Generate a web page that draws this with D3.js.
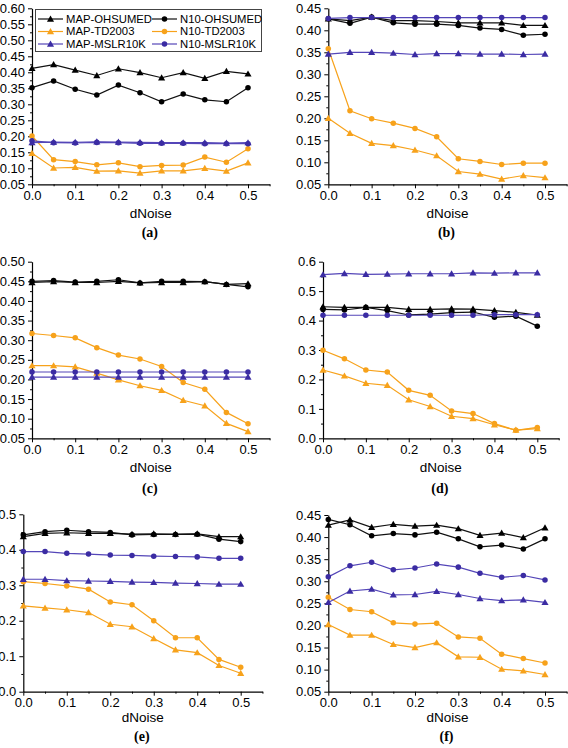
<!DOCTYPE html>
<html><head><meta charset="utf-8">
<script src="https://cdn.jsdelivr.net/npm/d3@7/dist/d3.min.js"></script>
<style>body{margin:0;background:#fff;} svg{display:block;}</style>
</head><body>
<svg id="chart" width="568" height="748"></svg>
<script>
// ---------- DATA ----------
const xValues = [0, 0.05, 0.1, 0.15, 0.2, 0.25, 0.3, 0.35, 0.4, 0.45, 0.5];
const xTickLabels = [0, 0.1, 0.2, 0.3, 0.4, 0.5];
const seriesNames = ["MAP-OHSUMED", "N10-OHSUMED", "MAP-TD2003", "N10-TD2003", "MAP-MSLR10K", "N10-MSLR10K"];
const panelTags = ["(a)", "(b)", "(c)", "(d)", "(e)", "(f)"];
const xLabel = "dNoise";

// panel (a)
const a_MAP_OHSUMED = [0.412, 0.424, 0.407, 0.390, 0.411, 0.399, 0.383, 0.399, 0.381, 0.403, 0.395];
const a_N10_OHSUMED = [0.352, 0.373, 0.347, 0.329, 0.360, 0.336, 0.308, 0.332, 0.314, 0.308, 0.352];
const a_MAP_TD2003  = [0.147, 0.101, 0.103, 0.091, 0.092, 0.085, 0.092, 0.092, 0.100, 0.091, 0.117];
const a_N10_TD2003  = [0.201, 0.127, 0.121, 0.111, 0.117, 0.105, 0.109, 0.110, 0.135, 0.119, 0.161];
const a_MAP_MSLR10K = [0.180, 0.182, 0.181, 0.183, 0.182, 0.181, 0.180, 0.180, 0.180, 0.179, 0.180];
const a_N10_MSLR10K = [0.186, 0.180, 0.179, 0.181, 0.180, 0.178, 0.178, 0.178, 0.177, 0.177, 0.177];
// panel (b)
const b_MAP_OHSUMED = [0.426, 0.422, 0.430, 0.422, 0.422, 0.420, 0.417, 0.417, 0.417, 0.411, 0.411];
const b_N10_OHSUMED = [0.426, 0.416, 0.430, 0.417, 0.414, 0.414, 0.411, 0.405, 0.402, 0.389, 0.391];
const b_MAP_TD2003  = [0.200, 0.166, 0.143, 0.138, 0.128, 0.115, 0.079, 0.073, 0.062, 0.070, 0.065];
const b_N10_TD2003  = [0.358, 0.217, 0.199, 0.189, 0.177, 0.158, 0.108, 0.102, 0.095, 0.098, 0.098];
const b_MAP_MSLR10K = [0.346, 0.350, 0.350, 0.348, 0.345, 0.347, 0.347, 0.346, 0.346, 0.345, 0.346];
const b_N10_MSLR10K = [0.427, 0.429, 0.429, 0.429, 0.429, 0.429, 0.429, 0.429, 0.429, 0.429, 0.429];
// panel (c)
const c_MAP_OHSUMED = [0.447, 0.449, 0.447, 0.447, 0.450, 0.446, 0.447, 0.447, 0.449, 0.442, 0.444];
const c_N10_OHSUMED = [0.450, 0.452, 0.448, 0.450, 0.454, 0.446, 0.450, 0.450, 0.449, 0.442, 0.436];
const c_MAP_TD2003  = [0.235, 0.235, 0.232, 0.216, 0.199, 0.184, 0.172, 0.147, 0.133, 0.088, 0.067];
const c_N10_TD2003  = [0.317, 0.312, 0.306, 0.281, 0.262, 0.252, 0.233, 0.192, 0.175, 0.116, 0.087];
const c_MAP_MSLR10K = [0.206, 0.206, 0.206, 0.206, 0.206, 0.206, 0.206, 0.206, 0.206, 0.206, 0.206];
const c_N10_MSLR10K = [0.219, 0.219, 0.219, 0.219, 0.219, 0.219, 0.219, 0.219, 0.219, 0.219, 0.219];
// panel (d)
const d_MAP_OHSUMED = [0.447, 0.445, 0.445, 0.445, 0.438, 0.438, 0.440, 0.439, 0.434, 0.428, 0.419];
const d_N10_OHSUMED = [0.438, 0.436, 0.445, 0.434, 0.419, 0.422, 0.427, 0.429, 0.411, 0.415, 0.381];
const d_MAP_TD2003  = [0.232, 0.212, 0.187, 0.180, 0.131, 0.108, 0.075, 0.067, 0.046, 0.028, 0.033];
const d_N10_TD2003  = [0.299, 0.270, 0.232, 0.225, 0.163, 0.146, 0.093, 0.084, 0.050, 0.027, 0.037];
const d_MAP_MSLR10K = [0.556, 0.560, 0.557, 0.558, 0.559, 0.559, 0.559, 0.562, 0.561, 0.562, 0.562];
const d_N10_MSLR10K = [0.418, 0.418, 0.418, 0.418, 0.418, 0.418, 0.418, 0.418, 0.420, 0.420, 0.420];
// panel (e)
const e_MAP_OHSUMED = [0.437, 0.446, 0.448, 0.446, 0.446, 0.444, 0.445, 0.444, 0.445, 0.437, 0.437];
const e_N10_OHSUMED = [0.442, 0.451, 0.455, 0.451, 0.449, 0.442, 0.443, 0.443, 0.444, 0.430, 0.423];
const e_MAP_TD2003  = [0.242, 0.236, 0.231, 0.223, 0.190, 0.183, 0.150, 0.118, 0.110, 0.074, 0.052];
const e_N10_TD2003  = [0.310, 0.305, 0.298, 0.289, 0.253, 0.245, 0.200, 0.152, 0.152, 0.091, 0.069];
const e_MAP_MSLR10K = [0.317, 0.317, 0.313, 0.312, 0.311, 0.309, 0.308, 0.306, 0.305, 0.303, 0.303];
const e_N10_MSLR10K = [0.395, 0.395, 0.390, 0.388, 0.385, 0.384, 0.382, 0.381, 0.380, 0.376, 0.376];
// panel (f)
const f_MAP_OHSUMED = [0.427, 0.439, 0.422, 0.429, 0.425, 0.427, 0.419, 0.404, 0.409, 0.399, 0.421];
const f_N10_OHSUMED = [0.440, 0.428, 0.403, 0.408, 0.405, 0.411, 0.396, 0.378, 0.382, 0.373, 0.396];
const f_MAP_TD2003  = [0.202, 0.178, 0.178, 0.157, 0.150, 0.161, 0.129, 0.128, 0.101, 0.097, 0.089];
const f_N10_TD2003  = [0.264, 0.236, 0.231, 0.206, 0.203, 0.205, 0.174, 0.171, 0.135, 0.125, 0.115];
const f_MAP_MSLR10K = [0.252, 0.278, 0.282, 0.269, 0.270, 0.277, 0.270, 0.261, 0.256, 0.258, 0.252];
const f_N10_MSLR10K = [0.310, 0.335, 0.343, 0.326, 0.330, 0.339, 0.332, 0.318, 0.309, 0.313, 0.303];

// y tick labels per panel
const yTicksA = [0.05, 0.10, 0.15, 0.20, 0.25, 0.30, 0.35, 0.40, 0.45, 0.50, 0.55, 0.60];
const yTicksB = [0.05, 0.10, 0.15, 0.20, 0.25, 0.30, 0.35, 0.40, 0.45];
const yTicksC = [0.05, 0.10, 0.15, 0.20, 0.25, 0.30, 0.35, 0.40, 0.45, 0.50];
const yTicksD = [0.0, 0.1, 0.2, 0.3, 0.4, 0.5, 0.6];
const yTicksE = [0.0, 0.1, 0.2, 0.3, 0.4, 0.5];
const yTicksF = [0.05, 0.10, 0.15, 0.20, 0.25, 0.30, 0.35, 0.40, 0.45];

const panelData = [
  [a_MAP_OHSUMED, a_N10_OHSUMED, a_MAP_TD2003, a_N10_TD2003, a_MAP_MSLR10K, a_N10_MSLR10K],
  [b_MAP_OHSUMED, b_N10_OHSUMED, b_MAP_TD2003, b_N10_TD2003, b_MAP_MSLR10K, b_N10_MSLR10K],
  [c_MAP_OHSUMED, c_N10_OHSUMED, c_MAP_TD2003, c_N10_TD2003, c_MAP_MSLR10K, c_N10_MSLR10K],
  [d_MAP_OHSUMED, d_N10_OHSUMED, d_MAP_TD2003, d_N10_TD2003, d_MAP_MSLR10K, d_N10_MSLR10K],
  [e_MAP_OHSUMED, e_N10_OHSUMED, e_MAP_TD2003, e_N10_TD2003, e_MAP_MSLR10K, e_N10_MSLR10K],
  [f_MAP_OHSUMED, f_N10_OHSUMED, f_MAP_TD2003, f_N10_TD2003, f_MAP_MSLR10K, f_N10_MSLR10K]
];
const panelYTicks = [yTicksA, yTicksB, yTicksC, yTicksD, yTicksE, yTicksF];

// ---------- LAYOUT / STYLE ----------
const layout = [
  {x0: 32,    x5: 248,   yT: 8.3,   yB: 184.3, lab: 213,   tag: 232,   fmt: ".2f"},
  {x0: 328.3, x5: 545,   yT: 8.3,   yB: 184.3, lab: 213,   tag: 232,   fmt: ".2f"},
  {x0: 32,    x5: 248,   yT: 261.7, yB: 438.3, lab: 467,   tag: 488.5, fmt: ".2f"},
  {x0: 323,   x5: 537.3, yT: 261.7, yB: 438.3, lab: 467,   tag: 488.5, fmt: ".1f"},
  {x0: 23.3,  x5: 240.7, yT: 514.3, yB: 691.7, lab: 717,   tag: 736,   fmt: ".1f"},
  {x0: 328.3, x5: 545,   yT: 515,   yB: 691.7, lab: 717,   tag: 736,   fmt: ".2f"}
];
const colors = ["#000000", "#000000", "#f7a21b", "#f7a21b", "#3b2ca3", "#3b2ca3"];
const lineColors = ["#111111", "#111111", "#f7a21b", "#f7a21b", "#5446b8", "#5446b8"];
const shapes = ["tri", "circ", "tri", "circ", "tri", "circ"];
const FONT = "'Liberation Sans', Arial, sans-serif";

const svg = d3.select("#chart");
const triSym = d3.symbol().type(d3.symbolTriangle).size(22);
const circSym = d3.symbol().type(d3.symbolCircle).size(24);

function drawMarker(g, shape, color, x, y) {
  g.append("path")
    .attr("d", shape === "tri" ? triSym() : circSym())
    .attr("transform", `translate(${x},${y + (shape === "tri" ? 0.6 : 0)})`)
    .attr("fill", color);
}

layout.forEach((L, pi) => {
  const g = svg.append("g");
  const xs = d3.scaleLinear().domain([0, 0.55]).range([L.x0, L.x0 + (L.x5 - L.x0) * 1.1]);
  const ticks = panelYTicks[pi];
  const ymin = ticks[0], ymax = ticks[ticks.length - 1];
  const ys = d3.scaleLinear().domain([ymin, ymax]).range([L.yB, L.yT]);
  const step = ticks[1] - ticks[0];
  const minorY = d3.range(ticks.length - 1).map(i => ticks[i] + step / 2);
  const minorX = [0.05, 0.15, 0.25, 0.35, 0.45, 0.55];

  // minor ticks
  g.append("g").attr("transform", `translate(${L.x0},0)`)
    .call(d3.axisLeft(ys).tickValues(minorY).tickSize(2).tickFormat("").tickSizeOuter(0))
    .call(s => s.select(".domain").remove());
  g.append("g").attr("transform", `translate(0,${L.yB})`)
    .call(d3.axisBottom(xs).tickValues(minorX).tickSize(2).tickFormat("").tickSizeOuter(0))
    .call(s => s.select(".domain").remove());

  // major axes
  const ya = g.append("g").attr("transform", `translate(${L.x0},0)`)
    .call(d3.axisLeft(ys).tickValues(ticks).tickFormat(d3.format(L.fmt)).tickSize(4).tickSizeOuter(0).tickPadding(3));
  const xa = g.append("g").attr("transform", `translate(0,${L.yB})`)
    .call(d3.axisBottom(xs).tickValues(xTickLabels).tickFormat(d3.format(".1f")).tickSize(4).tickSizeOuter(0).tickPadding(2));
  [ya, xa].forEach(a => {
    a.selectAll("text").attr("font-family", FONT).attr("font-size", 13).attr("fill", "#000");
    a.selectAll("line").attr("stroke", "#000").attr("stroke-width", 1);
    a.select(".domain").attr("stroke", "#000").attr("stroke-width", 1.2);
  });

  // axis title
  const xmid = (xs.range()[0] + xs.range()[1]) / 2;
  g.append("text").attr("x", xmid).attr("y", L.lab).attr("dy", "0.35em")
    .attr("text-anchor", "middle").attr("font-family", FONT).attr("font-size", 13.5).text(xLabel);
  g.append("text").attr("x", xmid - 1).attr("y", L.tag).attr("dy", "0.35em")
    .attr("text-anchor", "middle").attr("font-family", "'Liberation Serif', 'Times New Roman', serif")
    .attr("font-weight", "bold").attr("font-size", 14).text(panelTags[pi]);

  // series
  const line = d3.line().x((d, i) => xs(xValues[i])).y(d => ys(d));
  panelData[pi].forEach((vals, si) => {
    const sg = g.append("g");
    sg.append("path").datum(vals).attr("d", line).attr("fill", "none")
      .attr("stroke", lineColors[si]).attr("stroke-width", 1.2);
    vals.forEach((v, i) => drawMarker(sg, shapes[si], colors[si], xs(xValues[i]), ys(v)));
  });
});

// legend in panel (a)
const lg = svg.append("g");
lg.append("rect").attr("x", 35.5).attr("y", 9.5).attr("width", 226).attr("height", 42)
  .attr("fill", "#fff").attr("stroke", "#444").attr("stroke-width", 1);
const colX = [38, 152];
const rowY = [19, 31.5, 44];
seriesNames.forEach((name, si) => {
  const cx = colX[si % 2], cy = rowY[Math.floor(si / 2)];
  lg.append("line").attr("x1", cx).attr("x2", cx + 25).attr("y1", cy).attr("y2", cy)
    .attr("stroke", lineColors[si]).attr("stroke-width", 1.2);
  drawMarker(lg, shapes[si], colors[si], cx + 12.5, cy);
  lg.append("text").attr("x", cx + 28).attr("y", cy).attr("dy", "0.35em")
    .attr("font-family", FONT).attr("font-size", 11.3).text(name);
});
</script>
</body></html>
